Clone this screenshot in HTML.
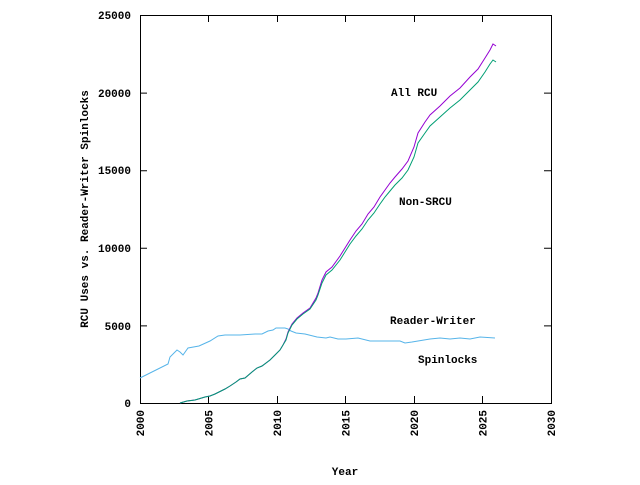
<!DOCTYPE html>
<html><head><style>body{margin:0;background:#fff}</style></head><body>
<svg width="640" height="480" xmlns="http://www.w3.org/2000/svg" font-family="Liberation Mono, monospace" font-weight="bold" font-size="11">
<rect x="140.5" y="15.5" width="411" height="388" fill="none" stroke="#000" stroke-width="1"/>
<g stroke="#000" stroke-width="1">
<path d="M140 403.5h7M140 325.9h7M140 248.3h7M140 170.7h7M140 93.1h7M140 15.5h7M551 403.5h-7M551 325.9h-7M551 248.3h-7M551 170.7h-7M551 93.1h-7"/>
<path d="M208.5 403v-7M277.5 403v-7M345.5 403v-7M414.5 403v-7M482.5 403v-7M208.5 15v7M277.5 15v7M345.5 15v7M414.5 15v7M482.5 15v7"/>
</g>
<g text-anchor="end">
<text x="131" y="407">0</text><text x="131" y="330">5000</text><text x="131" y="252">10000</text><text x="131" y="174">15000</text><text x="131" y="97">20000</text><text x="131" y="19">25000</text>
</g>
<g text-anchor="end">
<text transform="translate(144,410) rotate(-90)">2000</text>
<text transform="translate(212.5,410) rotate(-90)">2005</text>
<text transform="translate(281,410) rotate(-90)">2010</text>
<text transform="translate(349.5,410) rotate(-90)">2015</text>
<text transform="translate(418,410) rotate(-90)">2020</text>
<text transform="translate(486.5,410) rotate(-90)">2025</text>
<text transform="translate(555,410) rotate(-90)">2030</text>
</g>
<text x="345" y="475" text-anchor="middle">Year</text>
<text transform="translate(88,209) rotate(-90)" text-anchor="middle">RCU Uses vs. Reader-Writer Spinlocks</text>
<text x="391" y="96">All RCU</text>
<text x="399" y="205">Non-SRCU</text>
<text x="390" y="324">Reader-Writer</text>
<text x="418" y="363">Spinlocks</text>
<polyline fill="none" stroke="#56b4e9" stroke-width="1" points="140,378 168,364 170,357 177,350 180,352 183,355 188,348 199,346 210,341 218,336 225,335 240,335 255,334 262,334 268,331 273,330 276,328 285,328 288,329 291,331 296,333 305,334 317,337 326,338 330,337 338,339 346,339 358,338 370,341 378,341 400,341 405,343 412,342 430,339 440,338 450,339 460,338 470,339 480,337 495,338"/>
<polyline fill="none" stroke="#9400d3" stroke-width="1" points="180,403 187,401 195,400 205,397 210,396 215,394 225,389 230,386 236,382 240,379 245,378 252,372 257,368 262,366 270,360 275,355 280,350 283,345 286,339 288,332 292,324 297,318 303,313 310,308 316,298 318,293 322,280 326,272 332,267 340,256 345,248 350,240 356,231 362,224 368,214 374,207 380,197 385,190 390,183 395,177 402,169 408,161 414,147 418,133 425,122 430,115 440,106 450,96 460,88 470,77 478,69 485,58 490,50 493,44 496,46"/>
<polyline fill="none" stroke="#009e73" stroke-width="1" points="180,403 187,401 195,400 205,397 210,396 215,394 225,389 230,386 236,382 240,379 245,378 252,372 257,368 262,366 270,360 275,355 280,350 283,345 286,340 288,333 292,325 297,319 303,314 310,309 316,300 318,295 322,283 326,275 332,270 340,260 345,252 350,244 356,236 362,229 368,220 374,213 380,204 385,197 390,191 395,185 402,178 408,170 414,157 418,143 425,133 430,126 440,117 450,108 460,100 470,90 478,82 485,72 490,64 493,60 496,62"/>
</svg>
</body></html>
